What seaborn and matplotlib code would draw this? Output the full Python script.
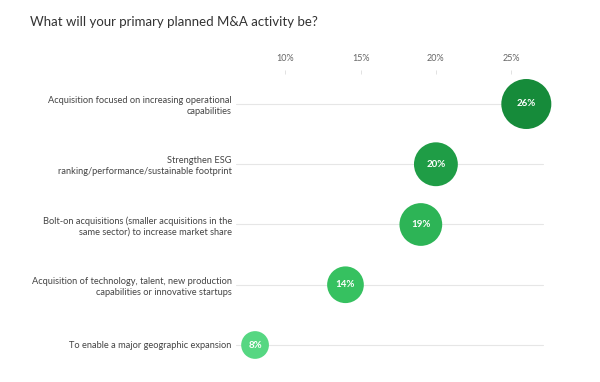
import matplotlib
matplotlib.use("Agg")
import matplotlib.pyplot as plt
import seaborn as sns
import pandas as pd

categories = [
    "Acquisition focused on increasing operational\ncapabilities",
    "Strengthen ESG\nranking/performance/sustainable footprint",
    "Bolt-on acquisitions (smaller acquisitions in the\nsame sector) to increase market share",
    "Acquisition of technology, talent, new production\ncapabilities or innovative startups",
    "To enable a major geographic expansion",
]
values = [26, 20, 19, 14, 8]
colors = ["#168b3a", "#1f9d46", "#2db456", "#36c160", "#56d782"]
tick_values = [10, 15, 20, 25]
tick_labels = ["10%", "15%", "20%", "25%"]
title = "What will your primary planned M&A activity be?"

sns.set_theme(style="white")
plt.rcParams["font.family"] = ["Lato", "DejaVu Sans"]

W, H = 600, 382
fig = plt.figure(figsize=(6, 3.82), dpi=100)
# axes in pixel coordinates
L, R, T, B = 236, 560, 70, 375
ax = fig.add_axes([L / W, 1 - B / H, (R - L) / W, (B - T) / H])

px_per_unit = 15.07
x0 = (L - 134.5) / px_per_unit
x1 = x0 + (R - L) / px_per_unit
row_px = 60.25

df = pd.DataFrame({"cat": categories, "val": values, "pos": range(len(categories))})

# gridlines per row
grid_end = (543 - 134.5) / px_per_unit
for p in df["pos"]:
    ax.plot([x0, grid_end], [p, p], color="#e6e6e6", lw=0.8, zorder=1)

smax = (50 * 0.72) ** 2
smin = smax * min(values) / max(values)
sns.scatterplot(data=df, x="val", y="pos", hue="cat", palette=colors,
                size="val", sizes=(smin, smax), size_norm=(min(values), max(values)),
                legend=False, ax=ax, edgecolor="none", zorder=3)

for v, p in zip(df["val"], df["pos"]):
    ax.text(v, p, f"{v}%", color="white", ha="center", va="center",
            fontsize=7, fontweight="bold", zorder=4)

ax.set_xlim(x0, x1)
ax.set_ylim(4 + (B - 345) / row_px, -(104 - T) / row_px)
ax.set_yticks(list(df["pos"]))
ax.set_yticklabels(categories, fontsize=6.7, color="#444444", linespacing=1.3)
for lab in ax.get_yticklabels():
    lab.set_horizontalalignment("right")
ax.tick_params(axis="y", length=0, pad=3)

ax.xaxis.tick_top()
ax.set_xticks(tick_values)
ax.set_xticklabels(tick_labels, fontsize=6.5, color="#666666")
ax.tick_params(axis="x", direction="in", length=3, width=0.6, color="#dddddd", pad=5)
ax.set_xlabel("")
ax.set_ylabel("")
for s in ax.spines.values():
    s.set_visible(False)

fig.text(30 / W, 1 - 22 / H, title, fontsize=9.5, color="#333333", va="center", ha="left")

fig.savefig("out.png", dpi=100)
